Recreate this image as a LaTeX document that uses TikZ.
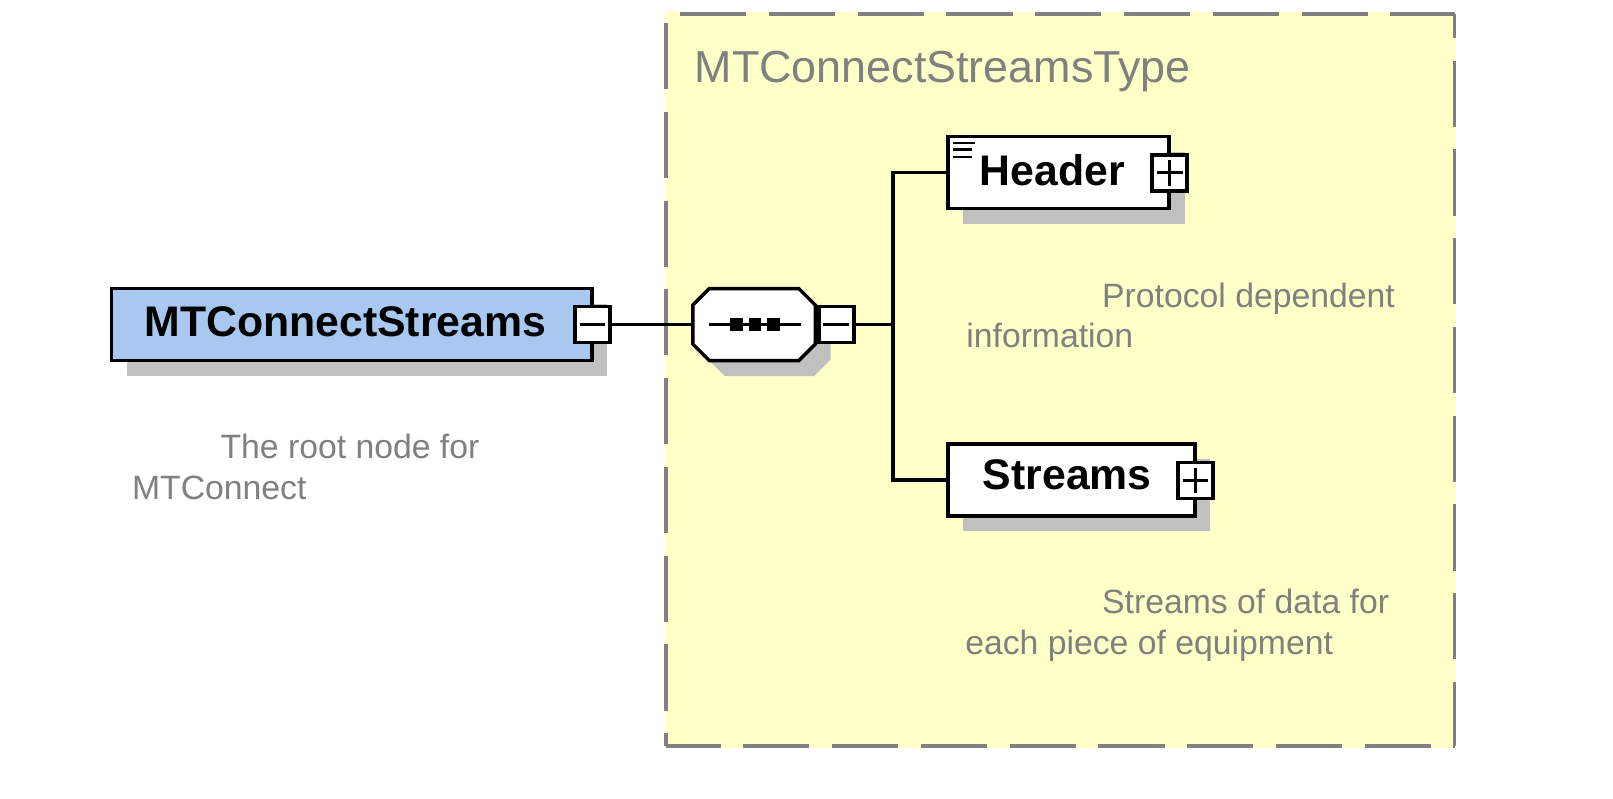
\documentclass[tikz,border=0pt]{standalone}
\usepackage{fontspec}
\setmainfont{Liberation Sans}
\usetikzlibrary{shadows,calc}
\definecolor{bgyellow}{RGB}{255,255,200}
\definecolor{framegray}{RGB}{128,128,128}
\definecolor{shgray}{RGB}{192,192,192}
\definecolor{rootblue}{RGB}{168,200,240}
\definecolor{descgray}{RGB}{128,128,128}
\begin{document}
\begin{tikzpicture}[x=0.5pt,y=-0.5pt,
  shadowed/.style={drop shadow={shadow xshift=7.5pt,shadow yshift=-7.5pt,fill=shgray,opacity=1}},
  box/.style={draw=black,line width=1.7pt,fill=white,inner sep=0pt,outer sep=0pt,minimum height=35pt},
  tbox/.style={draw=black,line width=1.7pt,fill=white,inner sep=0pt,outer sep=0pt,minimum width=17pt,minimum height=17.5pt},
  sign/.style={line width=1.5pt},
  conn/.style={line width=1.6pt},
  frame/.style={draw=framegray,line width=1.6pt,dash pattern=on 32.15pt off 11pt},
  lbl/.style={inner sep=0pt,font=\fontsize{20.8}{24}\selectfont\bfseries,text=black},
  ttl/.style={inner sep=0pt,font=\fontsize{21.8}{26}\selectfont,text=descgray},
  desc/.style={inner sep=0pt,font=\fontsize{16.4}{20}\selectfont,text=descgray}]
\useasboundingbox (0,0) rectangle (1568,775.75);
% type frame
\fill[bgyellow] (646,12) rectangle (1415.5,727);
\draw[frame,dash phase=36.35pt] (647.5,13.6) -- (1414,13.6);
\draw[frame,dash phase=38.8pt] (647.5,13.6) -- (647.5,725.3);
\draw[frame,dash phase=5.65pt] (647.5,725.3) -- (1414,725.3);
\draw[frame,dash phase=20.5pt] (1414,13.6) -- (1414,725.3);
\node[ttl,anchor=base west] (title) at (675,80) {MTConnectStreamsType};
% root element
\node[box,fill=rootblue,shadowed,minimum width=233.5pt] (root) at (342,315.5) {};
\node[lbl,anchor=base west] (roottxt) at (140,327) {MTConnectStreams};
\node[tbox] (rootm) at (576,315.5) {};
\draw[sign] ($(rootm.center)+(-12.5,0)$) -- ($(rootm.center)+(12.5,0)$);
% sequence compositor
\draw[line width=1.7pt,fill=white,shadowed] (689.5,280.5) -- (776.5,280.5) -- (792.5,296.5) -- (792.5,334.5) -- (776.5,350.5) -- (689.5,350.5) -- (673.5,334.5) -- (673.5,296.5) -- cycle;
\node[inner sep=0pt,outer sep=0pt,minimum width=59.5pt,minimum height=35pt] (seq) at (733,315.5) {};
\draw[line width=1.6pt] (689,315.5) -- (779,315.5);
\fill (710,309.5) rectangle +(12,12);
\fill (728,309.5) rectangle +(12,12);
\fill (746,309.5) rectangle +(12,12);
\node[tbox] (seqm) at (813,315.5) {};
\draw[sign] ($(seqm.center)+(-12.5,0)$) -- ($(seqm.center)+(12.5,0)$);
% children
\node[box,shadowed,minimum width=107.5pt] (header) at (1029,167.5) {};
\draw[line width=1.1pt] (926,139.3) -- (948,139.3) (926,145.3) -- (945,145.3) (926,152.5) -- (945,152.5);
\node[lbl,anchor=base west] (headertxt) at (952,180) {Header};
\node[tbox] (hplus) at (1137,168) {};
\draw[sign] ($(hplus.center)+(-12.5,0)$) -- ($(hplus.center)+(12.5,0)$) ($(hplus.center)+(0,-12.5)$) -- ($(hplus.center)+(0,12.5)$);
\node[box,shadowed,minimum width=120pt] (streams) at (1041.5,466.5) {};
\node[lbl,anchor=base west] (streamstxt) at (955,476) {Streams};
\node[tbox] (splus) at (1162,467) {};
\draw[sign] ($(splus.center)+(-12.5,0)$) -- ($(splus.center)+(12.5,0)$) ($(splus.center)+(0,-12.5)$) -- ($(splus.center)+(0,12.5)$);
% connectors
\coordinate (j) at (868,315.5);
\draw[conn] (rootm.east) -- (seq.west);
\draw[conn] (seqm.east) -- (j);
\draw[conn] (header.west) -- (header.west -| j) -- (streams.west -| j) -- (streams.west);
% documentation
\node[desc,anchor=base west] (d1a) at (214,446) {The root node for};
\node[desc,anchor=base west] (d1b) at (128,486) {MTConnect};
\node[desc,anchor=base west] (d2a) at (1071,299) {Protocol dependent};
\node[desc,anchor=base west] (d2b) at (939,338) {information};
\node[desc,anchor=base west] (d3a) at (1071,596) {Streams of data for};
\node[desc,anchor=base west] (d3b) at (938,636) {each piece of equipment};
\end{tikzpicture}
\end{document}
